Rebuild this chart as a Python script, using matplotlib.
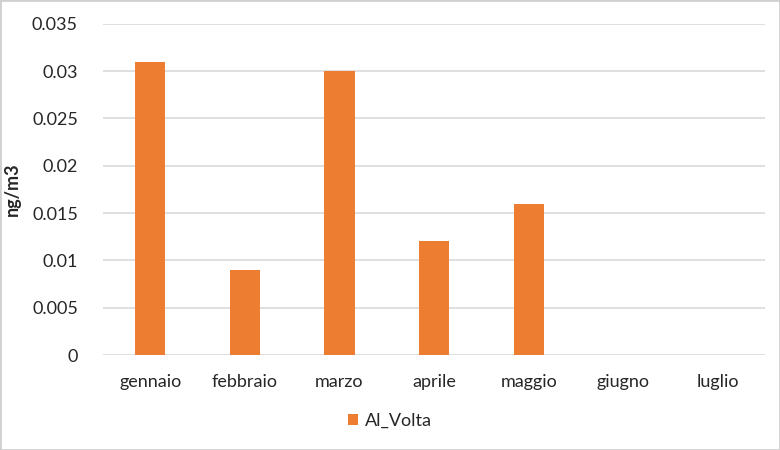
import matplotlib
matplotlib.use("Agg")
import matplotlib.pyplot as plt
from matplotlib.patches import Rectangle

categories = ["gennaio", "febbraio", "marzo", "aprile", "maggio", "giugno", "luglio"]
values = [0.031, 0.009, 0.030, 0.012, 0.016, 0, 0]
series_name = "Al_Volta"
yticks = [0, 0.005, 0.01, 0.015, 0.02, 0.025, 0.03, 0.035]
ytick_labels = ["0", "0.005", "0.01", "0.015", "0.02", "0.025", "0.03", "0.035"]

plt.rcParams['font.family'] = ['Lato', 'DejaVu Sans']
fig = plt.figure(figsize=(7.8, 4.5), dpi=100)
ax = fig.add_axes([0.132, 0.211, 0.849, 0.736])
x = list(range(len(categories)))
ax.bar(x, values, width=0.32, color="#ED7D31", label=series_name, zorder=3)
ax.set_xlim(-0.5, len(categories) - 0.5)
ax.set_ylim(0, 0.035)
ax.set_yticks(yticks)
ax.set_yticklabels(ytick_labels)
ax.set_xticks(x)
ax.set_xticklabels(categories)
ax.grid(axis='y', color="#D9D9D9", linewidth=1.2, zorder=0)
for s in ax.spines.values():
    s.set_visible(False)
ax.tick_params(axis='both', length=0, labelsize=13, colors="#262626")
ax.tick_params(axis='x', pad=14)
ax.tick_params(axis='y', pad=18)
ax.set_ylabel("ng/m3", fontsize=13, fontweight='bold', color="#262626", labelpad=8)
leg = fig.legend(loc='center', bbox_to_anchor=(0.5, 0.065), frameon=False, fontsize=13,
                 handlelength=0.55, handleheight=0.55, handletextpad=0.35)
for t in leg.get_texts():
    t.set_color("#262626")
fig.patches.append(Rectangle((0, 0), 1, 1, transform=fig.transFigure, fill=False,
                             edgecolor="#D0D0D0", linewidth=2))
fig.savefig("out.png", dpi=100)
